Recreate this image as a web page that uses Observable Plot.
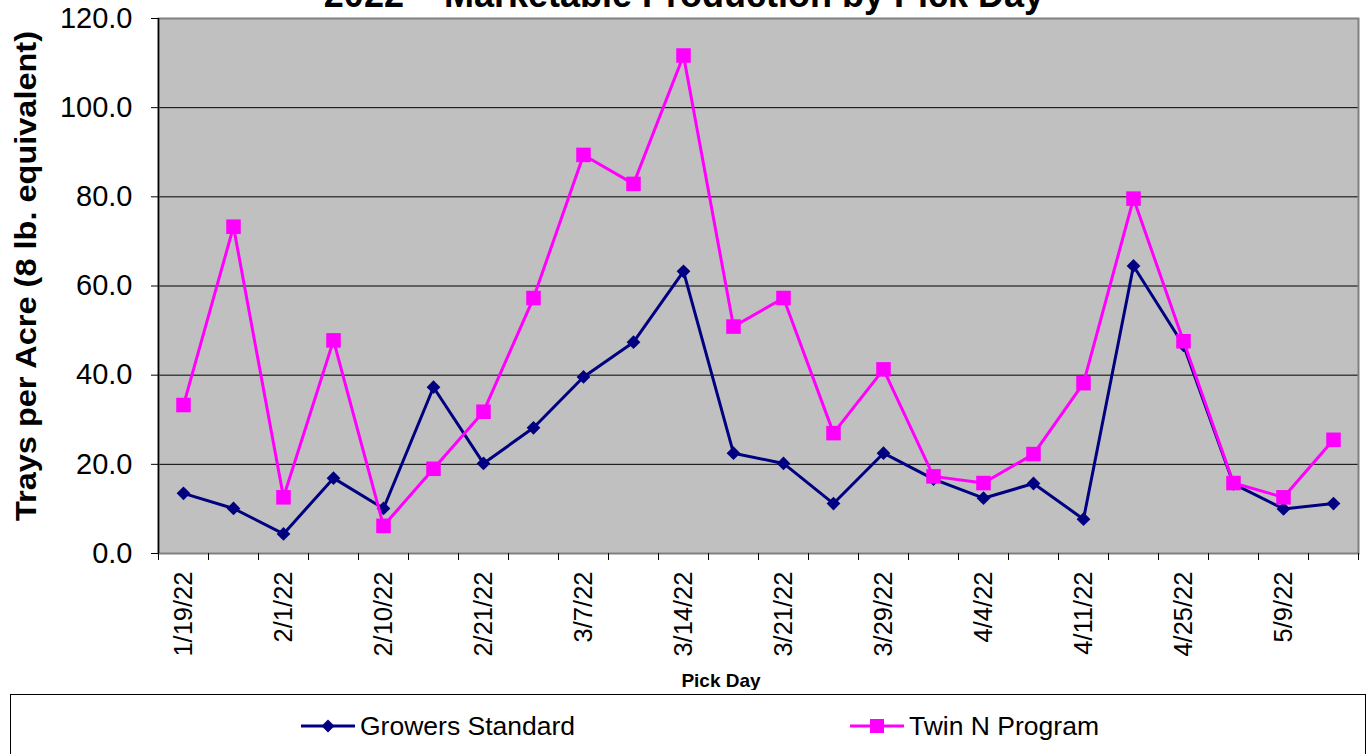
<!DOCTYPE html>
<html>
<head>
<meta charset="utf-8">
<script src="https://cdn.jsdelivr.net/npm/d3@7"></script>
<script src="https://cdn.jsdelivr.net/npm/@observablehq/plot@0.6"></script>
<style>
  html, body { margin: 0; padding: 0; background: #fff; overflow: hidden; }
  body { width: 1368px; height: 754px; position: relative; font-family: Arial, "Liberation Sans", sans-serif; }
  #chart { position: absolute; left: 0; top: 0; }
  #title { position: absolute; left: 0; width: 1368px; top: -23px; text-align: center; font-weight: bold; font-size: 36px; line-height: 36px; white-space: nowrap; color: #000; }
  #legend { position: absolute; left: 10px; top: 694px; width: 1354px; height: 70px; border: 1px solid #000; background: #fff; }
  .item { position: absolute; top: 11px; height: 40px; display: flex; align-items: center; font-size: 26.5px; color: #000; white-space: nowrap; }
</style>
</head>
<body>
<div id="chart"></div>
<div id="title">2022 – Marketable Production by Pick Day</div>
<div id="legend"></div>
<script>
// ---- data ----
const tickLabels = ["1/19/22", "2/1/22", "2/10/22", "2/21/22", "3/7/22", "3/14/22",
                    "3/21/22", "3/29/22", "4/4/22", "4/11/22", "4/25/22", "5/9/22"];
const growersStandard = [13.5, 10.1, 4.4, 16.9, 10.1, 37.3, 20.2, 28.2, 39.6, 47.4, 63.3, 22.5,
                         20.2, 11.2, 22.5, 16.7, 12.4, 15.7, 7.7, 64.5, 46.7, 15.6, 10.0, 11.2];
const twinNProgram   = [33.3, 73.3, 12.6, 47.8, 6.2, 19.0, 31.8, 57.3, 89.4, 82.9, 111.7, 50.9,
                         57.3, 27.0, 41.3, 17.3, 15.8, 22.3, 38.2, 79.6, 47.6, 15.8, 12.6, 25.5];
const seriesNames = ["Growers Standard", "Twin N Program"];
const yTicks = [0, 20, 40, 60, 80, 100, 120];
const titleText = "2022 – Marketable Production by Pick Day";
const yLabel = "Trays per Acre (8 lb. equivalent)";
const xLabel = "Pick Day";

const navy = "#000080", magenta = "#FF00FF";
const n = growersStandard.length;
const idx = d3.range(n);
const gs = idx.map(i => ({i, v: growersStandard[i]}));
const tn = idx.map(i => ({i, v: twinNProgram[i]}));
const boundaries = d3.range(n + 1).map(k => k - 0.5);
const labelIdx = tickLabels.map((_, k) => 2 * k);

const chart = Plot.plot({
  width: 1368,
  height: 690,
  marginLeft: 158,
  marginRight: 10,
  marginTop: 18,
  marginBottom: 137,
  style: {fontFamily: "Arial, 'Liberation Sans', sans-serif", color: "#000", background: "transparent"},
  x: {type: "linear", domain: [-0.5, n - 0.5], axis: null},
  y: {domain: [0, 120], axis: null},
  marks: [
    Plot.frame({fill: "#C0C0C0", stroke: null}),
    Plot.gridY(yTicks.filter(t => t > 0 && t < 120), {stroke: "#000", strokeOpacity: 1, strokeWidth: 1}),
    Plot.frame({stroke: "#808080", strokeWidth: 2}),
    Plot.ruleX([-0.5], {stroke: "#000", strokeWidth: 1.5}),
    Plot.axisY(yTicks, {tickSize: 7, tickPadding: 19, tickFormat: d => d.toFixed(1), fontSize: 29, label: null, stroke: "#000"}),
    Plot.axisX(boundaries, {tickSize: 7, tickFormat: () => "", label: null, stroke: "#000"}),
    Plot.axisX(labelIdx, {tickSize: 0, tickPadding: 18, tickRotate: -90, tickFormat: i => tickLabels[i / 2], fontSize: 25.5, label: null}),
    Plot.line(gs, {x: "i", y: "v", stroke: navy, strokeWidth: 3}),
    Plot.dot(gs, {x: "i", y: "v", symbol: "diamond2", r: 6.2, fill: navy, stroke: null}),
    Plot.line(tn, {x: "i", y: "v", stroke: magenta, strokeWidth: 3}),
    Plot.dot(tn, {x: "i", y: "v", symbol: "square", r: 8.2, fill: magenta, stroke: null})
  ]
});
document.getElementById("chart").appendChild(chart);
document.getElementById("title").textContent = titleText;

// axis titles
const svgSel = d3.select(chart);
svgSel.append("text")
  .attr("transform", "translate(26,276) rotate(-90)")
  .attr("text-anchor", "middle").attr("dominant-baseline", "central")
  .attr("font-size", 29).attr("font-weight", "bold").attr("fill", "#000")
  .attr("textLength", 490).attr("lengthAdjust", "spacingAndGlyphs")
  .text(yLabel);
svgSel.append("text")
  .attr("x", 721).attr("y", 680)
  .attr("text-anchor", "middle").attr("dominant-baseline", "central")
  .attr("font-size", 19).attr("font-weight", "bold").attr("fill", "#000")
  .text(xLabel);

// ---- legend ----
const legend = d3.select("#legend");
const items = [
  {name: seriesNames[0], color: navy, shape: "diamond", left: 290},
  {name: seriesNames[1], color: magenta, shape: "square", left: 839}
];
for (const it of items) {
  const div = legend.append("div").attr("class", "item").style("left", it.left + "px");
  const svg = div.append("svg").attr("width", 54).attr("height", 40).style("margin-right", "5px");
  svg.append("line").attr("x1", 0).attr("x2", 54).attr("y1", 20).attr("y2", 20)
     .attr("stroke", it.color).attr("stroke-width", 3);
  if (it.shape === "diamond") {
    svg.append("path").attr("d", "M27,13.5L33.5,20L27,26.5L20.5,20Z").attr("fill", it.color);
  } else {
    svg.append("rect").attr("x", 20).attr("y", 13).attr("width", 14).attr("height", 14).attr("fill", it.color);
  }
  div.append("span").text(it.name);
}
</script>
</body>
</html>
